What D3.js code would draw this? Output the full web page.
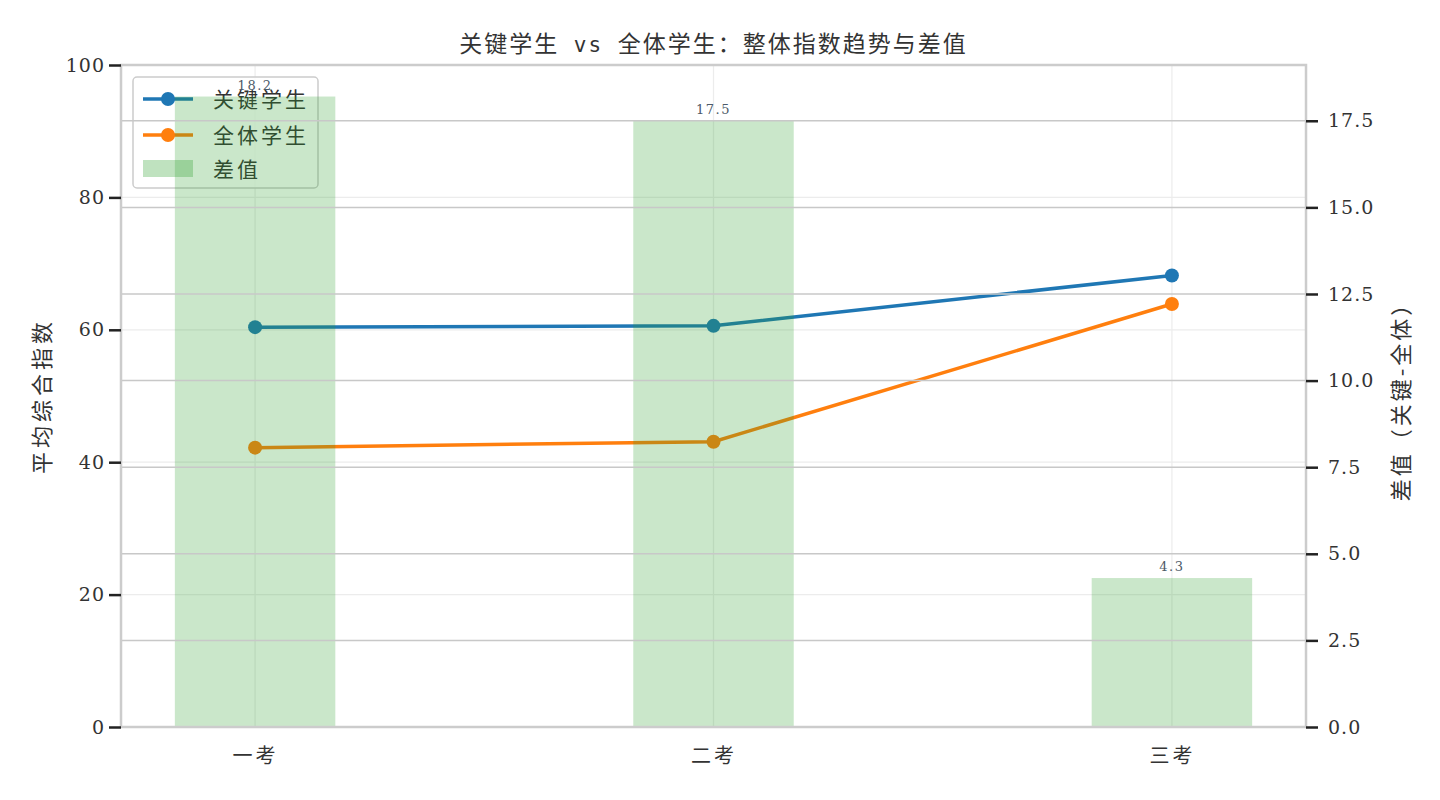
<!DOCTYPE html>
<html>
<head>
<meta charset="utf-8">
<script src="https://cdn.jsdelivr.net/npm/d3@7"></script>
<style>
  body { margin: 0; background: #fff; }
  text { font-family: "DejaVu Serif", "Noto Sans CJK SC", serif; }
</style>
</head>
<body>
<div id="chart"></div>
<script>
// données
const exams = ["一考", "二考", "三考"];
const keyStudents = [60.4, 60.6, 68.2];
const allStudents = [42.2, 43.1, 63.9];
const diffValues = [18.2, 17.5, 4.3];
const leftTicks = [0, 20, 40, 60, 80, 100];
const rightTicks = [0, 2.5, 5, 7.5, 10, 12.5, 15, 17.5];

const W = 1440, H = 800;
const m = { left: 121, right: 1306, top: 65, bottom: 727 };
const cjk = '"Noto Sans CJK SC", sans-serif';

const svg = d3.select("#chart").append("svg")
  .attr("width", W).attr("height", H);

const x = d3.scaleLinear().domain([-0.2925, 2.2925]).range([m.left, m.right]);
const yL = d3.scaleLinear().domain([0, 100]).range([m.bottom, m.top]);
const yR = d3.scaleLinear().domain([0, 19.11]).range([m.bottom, m.top]);
const barW = 0.35;

// grille de l'axe gauche (claire)
svg.append("g").selectAll("line").data(leftTicks).enter().append("line")
  .attr("x1", m.left).attr("x2", m.right)
  .attr("y1", d => yL(d)).attr("y2", d => yL(d))
  .attr("stroke", "#ececec").attr("stroke-width", 1.2);
svg.append("g").selectAll("line").data(exams).enter().append("line")
  .attr("x1", (d, i) => x(i)).attr("x2", (d, i) => x(i))
  .attr("y1", m.top).attr("y2", m.bottom)
  .attr("stroke", "#ececec").attr("stroke-width", 1.2);

// courbes
const series = [
  { name: "关键学生", values: keyStudents, color: "#1f77b4" },
  { name: "全体学生", values: allStudents, color: "#ff7f0e" }
];
const line = d3.line().x((d, i) => x(i)).y(d => yL(d));
series.forEach(s => {
  svg.append("path").datum(s.values)
    .attr("d", line).attr("fill", "none")
    .attr("stroke", s.color).attr("stroke-width", 3.5);
  svg.append("g").selectAll("circle").data(s.values).enter().append("circle")
    .attr("cx", (d, i) => x(i)).attr("cy", d => yL(d))
    .attr("r", 7).attr("fill", s.color);
});

// légende (dessinée sous les barres comme dans l'original)
const lg = svg.append("g").attr("transform", "translate(133,77)");
lg.append("rect").attr("width", 185).attr("height", 111).attr("rx", 4)
  .attr("fill", "rgba(255,255,255,0.8)").attr("stroke", "#cccccc").attr("stroke-width", 1.5);
series.forEach((s, i) => {
  const yy = 22 + i * 36;
  lg.append("line").attr("x1", 10).attr("x2", 60).attr("y1", yy).attr("y2", yy)
    .attr("stroke", s.color).attr("stroke-width", 3.5);
  lg.append("circle").attr("cx", 35).attr("cy", yy).attr("r", 7).attr("fill", s.color);
  lg.append("text").attr("x", 80).attr("y", yy + 8).text(s.name)
    .style("font-family", cjk).attr("font-size", 21).attr("letter-spacing", 3).attr("fill", "#333");
});
lg.append("rect").attr("x", 10).attr("y", 83).attr("width", 50).attr("height", 17)
  .attr("fill", "#2ca02c").attr("fill-opacity", 0.3);
lg.append("text").attr("x", 80).attr("y", 100).text("差值")
  .style("font-family", cjk).attr("font-size", 21).attr("letter-spacing", 3).attr("fill", "#333");

// barres de l'écart (axe droit)
svg.append("g").selectAll("rect").data(diffValues).enter().append("rect")
  .attr("x", (d, i) => x(i - barW / 2))
  .attr("width", x(barW) - x(0))
  .attr("y", d => yR(d))
  .attr("height", d => m.bottom - yR(d))
  .attr("fill", "#2ca02c").attr("fill-opacity", 0.25);

// grille de l'axe droit
svg.append("g").selectAll("line").data(rightTicks.slice(1)).enter().append("line")
  .attr("x1", m.left).attr("x2", m.right)
  .attr("y1", d => yR(d)).attr("y2", d => yR(d))
  .attr("stroke", "#c8c8c8").attr("stroke-width", 1.5);

// étiquettes des barres
svg.append("g").selectAll("text").data(diffValues).enter().append("text")
  .attr("x", (d, i) => x(i)).attr("y", d => yR(d) - 7)
  .attr("text-anchor", "middle").attr("font-size", 13).attr("letter-spacing", 1.5)
  .attr("fill", "#4d5a68")
  .text(d => d.toFixed(1));

// cadre
svg.append("rect").attr("x", m.left).attr("y", m.top)
  .attr("width", m.right - m.left).attr("height", m.bottom - m.top)
  .attr("fill", "none").attr("stroke", "#cccccc").attr("stroke-width", 2.5);

// axes
const axL = svg.append("g").attr("transform", `translate(${m.left},0)`)
  .call(d3.axisLeft(yL).tickValues(leftTicks).tickSize(12).tickPadding(4).tickFormat(d3.format("d")));
const axR = svg.append("g").attr("transform", `translate(${m.right},0)`)
  .call(d3.axisRight(yR).tickValues(rightTicks).tickSize(12).tickPadding(10).tickFormat(d3.format(".1f")));
const axB = svg.append("g").attr("transform", `translate(0,${m.bottom})`)
  .call(d3.axisBottom(x).tickValues([0, 1, 2]).tickSize(0).tickPadding(22).tickFormat(i => exams[i]));
[axL, axR, axB].forEach(a => {
  a.select(".domain").remove();
  a.selectAll(".tick line").attr("stroke", "#222").attr("stroke-width", 2.5);
  a.selectAll(".tick text").attr("font-size", 19).attr("letter-spacing", 1).attr("fill", "#333")
    .style("font-family", "\"DejaVu Serif\", \"Noto Sans CJK SC\", serif");
});
axB.selectAll(".tick text").style("font-family", cjk).attr("font-size", 20).attr("letter-spacing", 3);

// titres
const title = svg.append("text").attr("x", (m.left + m.right) / 2).attr("y", 52)
  .attr("text-anchor", "middle").attr("font-size", 23).attr("letter-spacing", 2).attr("fill", "#333")
  .style("font-family", cjk).attr("xml:space", "preserve");
title.append("tspan").text("关键学生");
title.append("tspan").style("font-family", '"DejaVu Sans Mono", monospace').attr("font-size", 21).text(" vs ");
title.append("tspan").text("全体学生：整体指数趋势与差值");

svg.append("text").attr("transform", `translate(50,${(m.top + m.bottom) / 2}) rotate(-90)`)
  .attr("text-anchor", "middle").attr("font-size", 22).attr("letter-spacing", 4).attr("fill", "#333")
  .style("font-family", cjk).text("平均综合指数");
svg.append("text").attr("transform", `translate(1409,${(m.top + m.bottom) / 2}) rotate(-90)`)
  .attr("text-anchor", "middle").attr("font-size", 22).attr("letter-spacing", 3).attr("fill", "#333")
  .style("font-family", cjk).text("差值（关键-全体）");
</script>
</body>
</html>
